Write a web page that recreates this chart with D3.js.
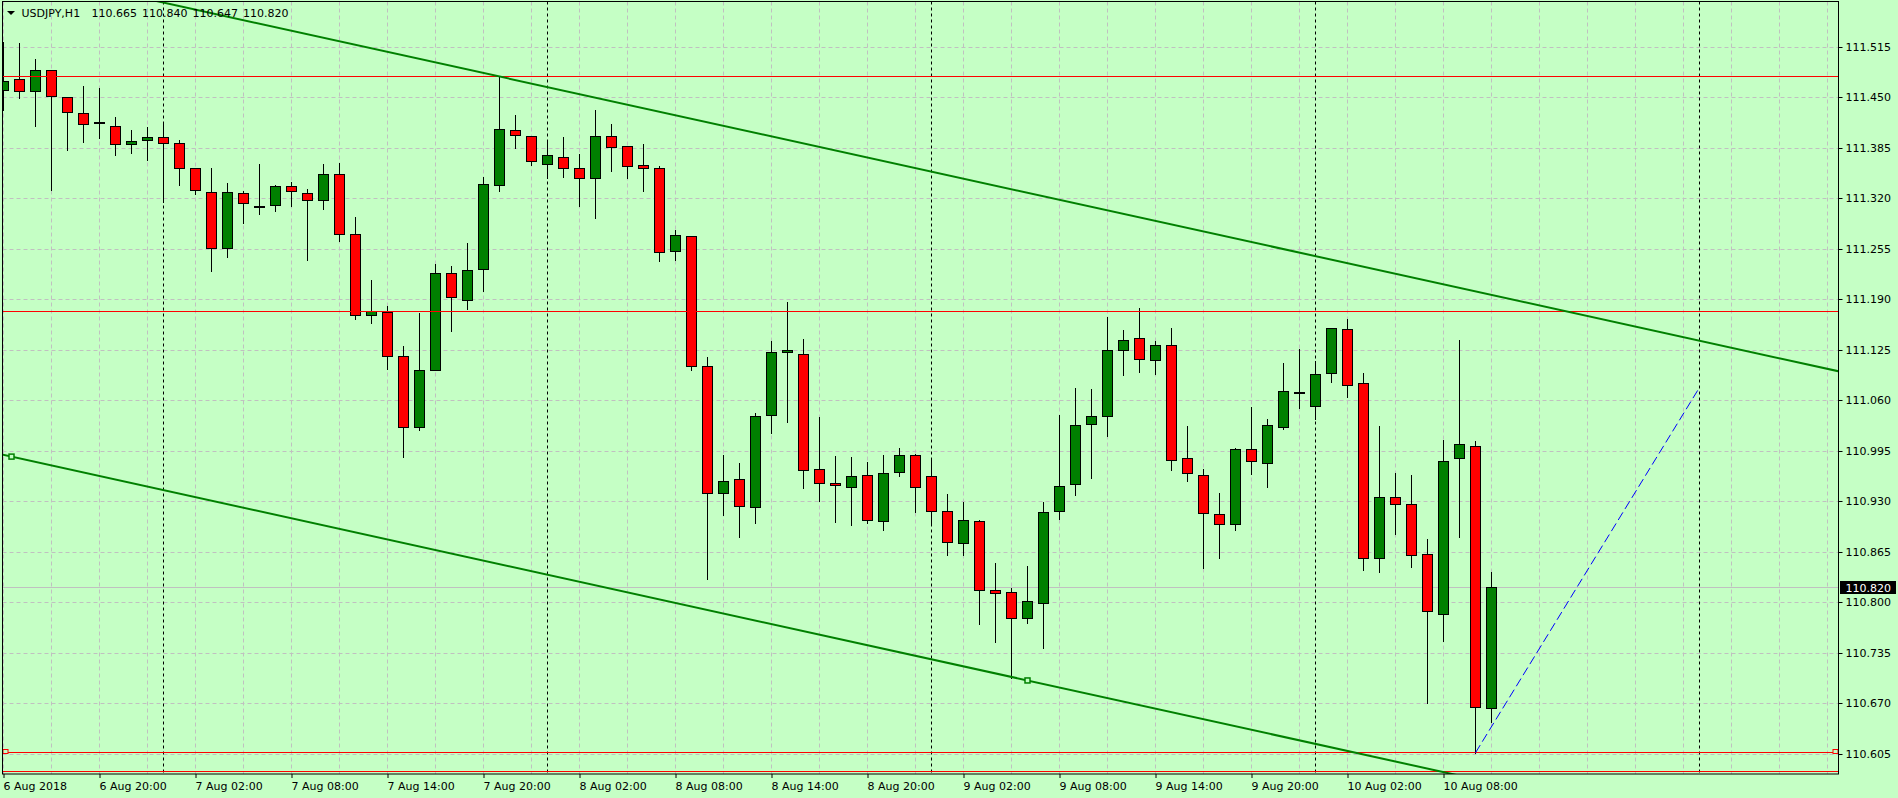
<!DOCTYPE html>
<html>
<head>
<meta charset="utf-8">
<script src="https://cdn.jsdelivr.net/npm/d3@7"></script>
<style>
  html, body { margin: 0; padding: 0; background: #c5ffc5; overflow: hidden; }
  svg { display: block; }
  text { font-family: "DejaVu Sans", sans-serif; font-size: 11px; fill: #000; }
</style>
</head>
<body>
<script>
// USDJPY H1 bars, 6 Aug 14:00 .. 10 Aug 11:00
const symbol = "USDJPY,H1";

const opens = [
  111.459, 111.473, 111.458, 111.485, 111.450, 111.430, 111.418, 111.413, 111.390, 111.395,
  111.399, 111.391, 111.359, 111.328, 111.256, 111.326, 111.310, 111.310, 111.335, 111.327,
  111.318, 111.351, 111.274, 111.170, 111.174, 111.117, 111.026, 111.100, 111.223, 111.190,
  111.228, 111.337, 111.407, 111.400, 111.364, 111.373, 111.359, 111.346, 111.400, 111.387,
  111.363, 111.359, 111.252, 111.271, 111.104, 110.941, 110.958, 110.923, 111.041, 111.121,
  111.120, 110.972, 110.953, 110.949, 110.964, 110.904, 110.968, 110.990, 110.963, 110.918,
  110.877, 110.905, 110.816, 110.813, 110.779, 110.799, 110.918, 110.952, 111.030, 111.040,
  111.125, 111.140, 111.112, 111.131, 110.985, 110.964, 110.914, 110.900, 110.997, 110.979,
  111.026, 111.071, 111.053, 111.095, 111.152, 111.082, 110.857, 110.936, 110.927, 110.862,
  110.786, 110.985, 111.001, 110.665
];
const highs = [
  111.521, 111.520, 111.500, 111.486, 111.450, 111.465, 111.462, 111.425, 111.408, 111.412,
  111.418, 111.395, 111.359, 111.359, 111.340, 111.330, 111.364, 111.337, 111.341, 111.332,
  111.365, 111.366, 111.296, 111.215, 111.182, 111.130, 111.173, 111.236, 111.233, 111.263,
  111.348, 111.477, 111.428, 111.401, 111.395, 111.399, 111.377, 111.434, 111.416, 111.388,
  111.390, 111.362, 111.280, 111.272, 111.116, 110.990, 110.980, 111.044, 111.137, 111.187,
  111.139, 111.039, 110.989, 110.988, 110.981, 110.990, 110.999, 110.991, 110.986, 110.940,
  110.930, 110.906, 110.851, 110.819, 110.847, 110.930, 111.042, 111.076, 111.075, 111.167,
  111.151, 111.179, 111.137, 111.154, 111.027, 110.972, 110.941, 110.999, 111.052, 111.036,
  111.109, 111.127, 111.111, 111.154, 111.165, 111.095, 111.027, 110.967, 110.964, 110.882,
  111.009, 111.138, 111.008, 110.840
];
const lows = [
  111.434, 111.450, 111.413, 111.331, 111.382, 111.393, 111.398, 111.376, 111.379, 111.370,
  111.315, 111.337, 111.326, 111.227, 111.245, 111.289, 111.300, 111.304, 111.310, 111.241,
  111.307, 111.265, 111.165, 111.160, 111.101, 110.988, 111.022, 111.099, 111.150, 111.178,
  111.201, 111.330, 111.385, 111.363, 111.346, 111.348, 111.310, 111.295, 111.356, 111.347,
  111.330, 111.240, 111.241, 111.099, 110.831, 110.913, 110.884, 110.903, 111.018, 111.033,
  110.947, 110.931, 110.904, 110.900, 110.903, 110.894, 110.963, 110.917, 110.903, 110.861,
  110.861, 110.772, 110.750, 110.703, 110.774, 110.742, 110.908, 110.938, 110.961, 111.015,
  111.093, 111.097, 111.094, 110.971, 110.957, 110.845, 110.857, 110.893, 110.965, 110.949,
  111.024, 111.050, 111.037, 111.084, 111.065, 110.842, 110.840, 110.889, 110.846, 110.671,
  110.751, 110.885, 110.607, 110.647
];
const closes = [
  111.470, 111.457, 111.485, 111.452, 111.430, 111.416, 111.418, 111.390, 111.394, 111.399,
  111.391, 111.359, 111.331, 111.257, 111.328, 111.313, 111.310, 111.335, 111.328, 111.318,
  111.351, 111.274, 111.170, 111.175, 111.117, 111.026, 111.099, 111.224, 111.192, 111.228,
  111.338, 111.409, 111.400, 111.368, 111.376, 111.359, 111.346, 111.400, 111.386, 111.362,
  111.359, 111.251, 111.273, 111.103, 110.941, 110.956, 110.923, 111.040, 111.122, 111.124,
  110.971, 110.954, 110.950, 110.963, 110.906, 110.966, 110.990, 110.949, 110.918, 110.878,
  110.906, 110.816, 110.813, 110.779, 110.801, 110.916, 110.950, 111.028, 111.040, 111.125,
  111.138, 111.113, 111.131, 110.983, 110.965, 110.915, 110.901, 110.997, 110.981, 111.028,
  111.072, 111.071, 111.094, 111.153, 111.080, 110.856, 110.936, 110.927, 110.861, 110.788,
  110.982, 111.003, 110.664, 110.820
];

// time axis: one label every 6 bars
const timeTickBars = [0, 6, 12, 18, 24, 30, 36, 42, 48, 54, 60, 66, 72, 78, 84, 90];
const timeLabels = [
  "6 Aug 2018", "6 Aug 20:00", "7 Aug 02:00", "7 Aug 08:00", "7 Aug 14:00", "7 Aug 20:00",
  "8 Aug 02:00", "8 Aug 08:00", "8 Aug 14:00", "8 Aug 20:00", "9 Aug 02:00", "9 Aug 08:00",
  "9 Aug 14:00", "9 Aug 20:00", "10 Aug 02:00", "10 Aug 08:00"
];
const daySeparatorBars = [10, 34, 58, 82, 106];

// price axis
const priceTicks = [111.515, 111.450, 111.385, 111.320, 111.255, 111.190, 111.125, 111.060,
  110.995, 110.930, 110.865, 110.800, 110.735, 110.670, 110.605];

// drawn objects
const redLevels = [111.477, 111.175, 110.607, 110.583];
const markedLevel = 110.607;
const channelUpper = [[31, 111.477], [95, 111.187]];
const channelLower = [[0.5, 110.988], [64, 110.700]];
const blueLine = [[92, 110.607], [106, 111.077]];

const width = 1898, height = 798;
const plotLeft = 2.5, plotRight = 1838.5, plotTop = 1.5, plotBottom = 774;

const bg = "#c5ffc5";
const bullColor = "#008000";
const bearColor = "#ff0000";
const gridColor = "#c0c0c0";

const svg = d3.select("body").append("svg")
  .attr("width", width)
  .attr("height", height);

svg.append("rect").attr("width", width).attr("height", height).attr("fill", bg);

// scales: one bar = 16px, price scale fixed
const x = d3.scaleLinear().domain([0, 1]).range([3.5, 19.5]);
const y = d3.scaleLinear().domain([110.605, 111.515]).range([754.3, 47]);
const crisp = v => Math.round(v) + 0.5;

svg.append("clipPath").attr("id", "plot")
  .append("rect").attr("x", plotLeft).attr("y", plotTop)
  .attr("width", plotRight - plotLeft).attr("height", plotBottom - plotTop);

const plot = svg.append("g").attr("clip-path", "url(#plot)");

// grid
const gridBars = d3.range(0, 115, 3);
plot.selectAll(".vgrid").data(gridBars).enter().append("line")
  .attr("x1", d => x(d)).attr("x2", d => x(d))
  .attr("y1", plotTop).attr("y2", plotBottom)
  .attr("stroke", gridColor).attr("stroke-dasharray", "4,3");

plot.selectAll(".hgrid").data(priceTicks).enter().append("line")
  .attr("x1", plotLeft).attr("x2", plotRight)
  .attr("y1", d => crisp(y(d) - 0.5)).attr("y2", d => crisp(y(d) - 0.5))
  .attr("stroke", gridColor).attr("stroke-dasharray", "4,3");

// period separators
plot.selectAll(".sep").data(daySeparatorBars).enter().append("line")
  .attr("x1", d => x(d)).attr("x2", d => x(d))
  .attr("y1", plotTop).attr("y2", plotBottom)
  .attr("stroke", "#000").attr("stroke-dasharray", "3,3");

// bid line
const lastClose = closes[closes.length - 1];
plot.append("line")
  .attr("x1", plotLeft).attr("x2", plotRight)
  .attr("y1", crisp(y(lastClose) - 0.5)).attr("y2", crisp(y(lastClose) - 0.5))
  .attr("stroke", gridColor);

// candles
const bars = opens.map((o, i) => ({ i, o, h: highs[i], l: lows[i], c: closes[i] }));
const candle = plot.selectAll(".candle").data(bars).enter().append("g");

candle.append("line")
  .attr("x1", d => x(d.i)).attr("x2", d => x(d.i))
  .attr("y1", d => Math.round(y(d.h))).attr("y2", d => Math.round(y(d.l)) + 1)
  .attr("stroke", "#000");

candle.append("rect")
  .attr("x", d => x(d.i) - 5)
  .attr("width", 10)
  .attr("y", d => crisp(y(Math.max(d.o, d.c)) - 0.5))
  .attr("height", d => Math.max(1, Math.round(y(Math.min(d.o, d.c))) - Math.round(y(Math.max(d.o, d.c)))))
  .attr("fill", d => d.c > d.o ? bullColor : d.c < d.o ? bearColor : "#000")
  .attr("stroke", "#000");

// horizontal levels
plot.selectAll(".level").data(redLevels).enter().append("line")
  .attr("x1", plotLeft).attr("x2", plotRight)
  .attr("y1", d => crisp(y(d) - 0.5)).attr("y2", d => crisp(y(d) - 0.5))
  .attr("stroke", "#ff0000");

[plotLeft + 3, plotRight - 3].forEach(px => {
  plot.append("rect")
    .attr("x", px - 2.5).attr("y", crisp(y(markedLevel) - 0.5) - 3)
    .attr("width", 5).attr("height", 4)
    .attr("fill", bg).attr("stroke", "#ff0000");
});

// trend lines extended across the chart
function extend(pts, b0, b1) {
  const [[xa, ya], [xb, yb]] = pts;
  const k = (yb - ya) / (xb - xa);
  return [[b0, ya + k * (b0 - xa)], [b1, ya + k * (b1 - xa)]];
}
const line = d3.line().x(d => x(d[0])).y(d => y(d[1]));

[channelUpper, channelLower].forEach(pts => {
  plot.append("path")
    .attr("d", line(extend(pts, -2, 120)))
    .attr("fill", "none")
    .attr("stroke", bullColor)
    .attr("stroke-width", 2);
});

plot.selectAll(".anchor").data(channelLower).enter().append("rect")
  .attr("x", d => x(d[0]) - 2.5).attr("y", d => y(d[1]) - 2.5)
  .attr("width", 5).attr("height", 5)
  .attr("fill", bg).attr("stroke", bullColor).attr("stroke-width", 1.5);

plot.append("path")
  .attr("d", line(blueLine))
  .attr("fill", "none")
  .attr("stroke", "#0000ff")
  .attr("stroke-dasharray", "9,4");

// frame
svg.append("rect")
  .attr("x", plotLeft).attr("y", plotTop)
  .attr("width", plotRight - plotLeft).attr("height", plotBottom - plotTop)
  .attr("fill", "none").attr("stroke", "#000");

// price axis
const yAxis = svg.append("g")
  .attr("transform", `translate(${plotRight},0)`)
  .call(d3.axisRight(y).tickValues(priceTicks).tickFormat(d3.format(".3f")).tickSize(4).tickPadding(3));
yAxis.select(".domain").remove();
yAxis.selectAll(".tick").attr("transform", d => `translate(0,${crisp(y(d) - 0.5)})`);
yAxis.selectAll("text").attr("dy", "0.36em").style("font-family", "DejaVu Sans").style("font-size", "11px");

// time axis
const xAxis = svg.append("g")
  .attr("transform", `translate(0,${plotBottom})`)
  .call(d3.axisBottom(x).tickValues(timeTickBars).tickFormat((d, i) => timeLabels[i]).tickSize(4).tickPadding(4));
xAxis.select(".domain").remove();
xAxis.selectAll("text")
  .attr("text-anchor", "start")
  .attr("x", -0.5)
  .style("font-family", "DejaVu Sans").style("font-size", "11px");

// current price tag
const tagY = crisp(y(lastClose) - 0.5);
svg.append("rect")
  .attr("x", 1840).attr("y", tagY - 6.5)
  .attr("width", 56).attr("height", 13)
  .attr("fill", "#000");
svg.append("text")
  .attr("x", 1845.5).attr("y", tagY + 4)
  .style("fill", "#fff")
  .text(d3.format(".3f")(lastClose));

// header
const last = bars[bars.length - 1];
svg.append("path").attr("d", "M7,11L15,11L11,15Z").attr("fill", "#000");
svg.append("text").attr("x", 21.5).attr("y", 17).text(symbol);
svg.append("text").attr("x", 91.5).attr("y", 17)
  .attr("word-spacing", "1.5px")
  .text([last.o, last.h, last.l, last.c].map(d3.format(".3f")).join(" "));
</script>
</body>
</html>
